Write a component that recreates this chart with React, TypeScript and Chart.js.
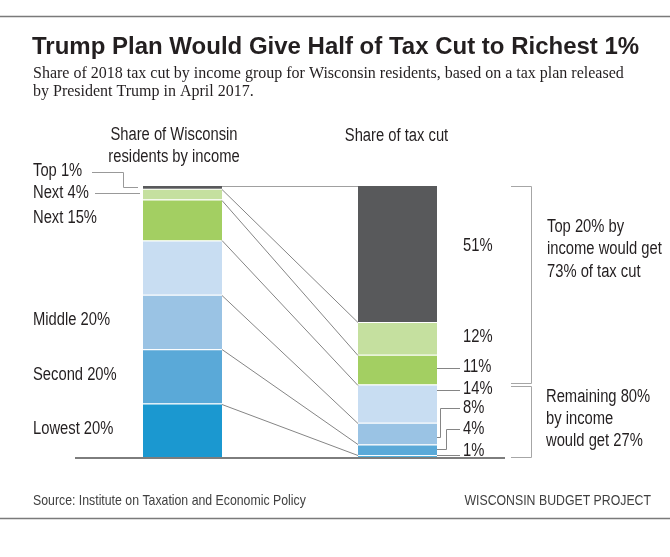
import React, { useEffect, useRef } from 'react';
import { Chart, registerables } from 'chart.js';

Chart.register(...registerables);

// ---------- data ----------
const categories = ['Share of Wisconsin residents by income', 'Share of tax cut'];
const groups = ['Lowest 20%', 'Second 20%', 'Middle 20%', 'Fourth 20%', 'Next 15%', 'Next 4%', 'Top 1%'];
const residentShare = [20, 20, 20, 20, 15, 4, 1];
const taxCutShare = [1, 4, 8, 14, 11, 12, 51];
const groupColors = ['#1b98d0', '#5aa9d8', '#9ac3e4', '#c8ddf2', '#a3cf62', '#c5e09f', '#58595b'];
const leftLabels = ['Lowest 20%', 'Second 20%', 'Middle 20%', '', 'Next 15%', 'Next 4%', 'Top 1%'];
const rightLabels = ['1%', '4%', '8%', '14%', '11%', '12%', '51%'];
const headerLeft = ['Share of Wisconsin', 'residents by income'];
const headerRight = ['Share of tax cut'];
const bracketTopText = ['Top 20% by', 'income would get', '73% of tax cut'];
const bracketBottomText = ['Remaining 80%', 'by income', 'would get 27%'];
const titleText = 'Trump Plan Would Give Half of Tax Cut to Richest 1%';
const subtitleLines = [
  'Share of 2018 tax cut by income group for Wisconsin residents, based on a tax plan released',
  'by President Trump in April 2017.',
];
const sourceText = 'Source: Institute on Taxation and Economic Policy';
const creditText = 'WISCONSIN BUDGET PROJECT';

const TEXT = '#231f20';
const LINE = '#858585';

let narrowAvail: boolean | null = null;
function hasNarrow(ctx: CanvasRenderingContext2D) {
  if (narrowAvail !== null) return narrowAvail;
  ctx.save();
  ctx.font = '18px "Liberation Sans Narrow", monospace';
  const w = ctx.measureText('Share of Wisconsin').width;
  ctx.restore();
  narrowAvail = w < 150;
  return narrowAvail;
}

function nText(
  ctx: CanvasRenderingContext2D,
  text: string,
  x: number,
  y: number,
  size: number,
  align: CanvasTextAlign = 'left',
  color = TEXT,
) {
  ctx.save();
  ctx.fillStyle = color;
  ctx.textBaseline = 'middle';
  ctx.textAlign = align;
  if (hasNarrow(ctx)) {
    ctx.font = `${size}px "Liberation Sans Narrow"`;
    ctx.fillText(text, x, y);
  } else {
    ctx.font = `${size}px "Liberation Sans", Arial, sans-serif`;
    ctx.translate(x, y);
    ctx.scale(0.82, 1);
    ctx.fillText(text, 0, 0);
  }
  ctx.restore();
}

function poly(ctx: CanvasRenderingContext2D, pts: number[][], color = LINE, w = 1) {
  ctx.save();
  ctx.strokeStyle = color;
  ctx.lineWidth = w;
  ctx.beginPath();
  pts.forEach((p, i) => (i === 0 ? ctx.moveTo(p[0], p[1]) : ctx.lineTo(p[0], p[1])));
  ctx.stroke();
  ctx.restore();
}

const cum = (arr: number[], k: number) => Math.min(100, arr.slice(0, k + 1).reduce((a, b) => a + b, 0));

const decorPlugin = {
  id: 'decor',
  afterDatasetsDraw(chart: any) {
    const ctx: CanvasRenderingContext2D = chart.ctx;
    const y = chart.scales.y;
    const ca = chart.chartArea;
    const metaFirst = chart.getDatasetMeta(0);
    const lb = metaFirst.data[0];
    const rb = metaFirst.data[1];
    const leftRight = lb.x + lb.width / 2;
    const leftLeft = lb.x - lb.width / 2;
    const rightLeft = rb.x - rb.width / 2;
    const rightRight = rb.x + rb.width / 2;

    // connecting lines between bars
    for (let k = 0; k < groups.length; k++) {
      const yl = y.getPixelForValue(cum(residentShare, k));
      const yr = y.getPixelForValue(cum(taxCutShare, k));
      const last = k === groups.length - 1;
      poly(ctx, [[leftRight, Math.round(yl) + (last ? 0.5 : 0.5)], [rightLeft, Math.round(yr) + 0.5]], last ? '#a0a0a0' : LINE, 1);
    }

    // baseline
    const y0 = y.getPixelForValue(0);
    poly(ctx, [[ca.left, y0], [ca.right, y0]], '#7d7d7d', 2);

    // left labels
    leftLabels.forEach((lab, i) => {
      if (!lab || i >= 5) return;
      const mid = y.getPixelForValue(cum(residentShare, i) - residentShare[i] / 2);
      nText(ctx, lab, 33, mid - 1.5, 18);
    });
    // Top 1% & Next 4% with leaders
    const yTop1 = y.getPixelForValue(cum(residentShare, 6) - residentShare[6] / 2);
    const yNext4 = y.getPixelForValue(cum(residentShare, 5) - residentShare[5] / 2);
    nText(ctx, leftLabels[6], 33, 171, 18);
    poly(ctx, [[92, 172.5], [123.5, 172.5], [123.5, Math.round(yTop1) + 0.5], [leftLeft - 5, Math.round(yTop1) + 0.5]], '#999', 1);
    nText(ctx, leftLabels[5], 33, 193, 18);
    poly(ctx, [[95, Math.round(yNext4) - 0.5], [leftLeft - 3, Math.round(yNext4) - 0.5]], '#999', 1);

    // headers
    nText(ctx, headerLeft[0], 174, 135, 18, 'center');
    nText(ctx, headerLeft[1], 174, 157, 18, 'center');
    nText(ctx, headerRight[0], rb.x - 1, 136, 18, 'center');

    // right labels
    const lx = 463;
    const seg = (i: number) => y.getPixelForValue(cum(taxCutShare, i) - taxCutShare[i] / 2);
    nText(ctx, rightLabels[6], lx, 246, 18);
    nText(ctx, rightLabels[5], lx, 337, 18);
    nText(ctx, rightLabels[4], lx, 367, 18);
    poly(ctx, [[rightRight, 368.5], [460, 368.5]]);
    nText(ctx, rightLabels[3], lx, 389, 18);
    poly(ctx, [[rightRight, 390.5], [460, 390.5]]);
    nText(ctx, rightLabels[2], lx, 408, 18);
    const s8 = Math.round(seg(2)) + 3.5;
    poly(ctx, [[rightRight, s8], [440.5, s8], [440.5, 408.5], [460, 408.5]]);
    nText(ctx, rightLabels[1], lx, 429, 18);
    const s4 = Math.round(seg(1)) - 0.5;
    poly(ctx, [[rightRight, s4], [446.5, s4], [446.5, 429.5], [460, 429.5]]);
    nText(ctx, rightLabels[0], lx, 451, 18);
    poly(ctx, [[rightRight, 455.5], [460, 455.5]]);

    // brackets
    const yB100 = Math.round(y.getPixelForValue(100)) + 0.5;
    const yB27 = y.getPixelForValue(27);
    const yB0 = Math.round(y.getPixelForValue(0)) - 0.5;
    poly(ctx, [[511, yB100], [531.5, yB100], [531.5, Math.round(yB27) - 1.5], [511, Math.round(yB27) - 1.5]], '#a6a6a6', 1);
    poly(ctx, [[511, Math.round(yB27) + 1.5], [531.5, Math.round(yB27) + 1.5], [531.5, yB0], [511, yB0]], '#a6a6a6', 1);
    bracketTopText.forEach((t, i) => nText(ctx, t, 547, 227 + i * 22.5, 18));
    bracketBottomText.forEach((t, i) => nText(ctx, t, 546, 397 + i * 22, 18));

    // frame lines
    poly(ctx, [[0, 16.5], [670, 16.5]], '#7a7a7a', 1.5);
    poly(ctx, [[0, 518.5], [670, 518.5]], '#7a7a7a', 1.5);

    // title & subtitle
    ctx.save();
    ctx.fillStyle = TEXT;
    ctx.textBaseline = 'alphabetic';
    ctx.textAlign = 'left';
    ctx.font = 'bold 24px "Liberation Sans", Arial, sans-serif';
    ctx.fillText(titleText, 32, 53.5);
    ctx.font = '16px "Liberation Serif", "Times New Roman", serif';
    ctx.fillText(subtitleLines[0], 33, 77.5);
    ctx.fillText(subtitleLines[1], 33, 95.5);
    ctx.restore();

    // footer
    nText(ctx, sourceText, 33, 500.5, 15, 'left', '#404040');
    nText(ctx, creditText, 651, 500.5, 15, 'right', '#404040');
  },
};

export default function App() {
  const ref = useRef<HTMLCanvasElement | null>(null);
  useEffect(() => {
    if (!ref.current) return;
    const chart = new Chart(ref.current, {
      type: 'bar',
      data: {
        labels: categories,
        datasets: groups.map((g, i) => ({
          label: g,
          data: [residentShare[i], taxCutShare[i]],
          backgroundColor: groupColors[i],
          borderColor: '#ffffff',
          borderWidth: { top: i === groups.length - 1 ? 0 : 1, left: 0, right: 0, bottom: 0 },
          borderSkipped: false,
          barPercentage: 1,
          categoryPercentage: 79 / 215,
          clip: 0,
        })),
      },
      options: {
        responsive: false,
        animation: false,
        layout: { padding: { left: 75, right: 165, top: 186, bottom: 99 } },
        plugins: { legend: { display: false }, title: { display: false }, tooltip: { enabled: false } },
        scales: {
          x: { stacked: true, display: false },
          y: { stacked: true, display: false, min: 0, max: 100 },
        },
      },
      plugins: [decorPlugin],
    });
    return () => chart.destroy();
  }, []);
  return (
    <div style={{ position: 'fixed', left: 0, top: 0, width: 670, height: 557, background: '#fff' }}>
      <canvas ref={ref} width={670} height={557} style={{ display: 'block' }} />
    </div>
  );
}
